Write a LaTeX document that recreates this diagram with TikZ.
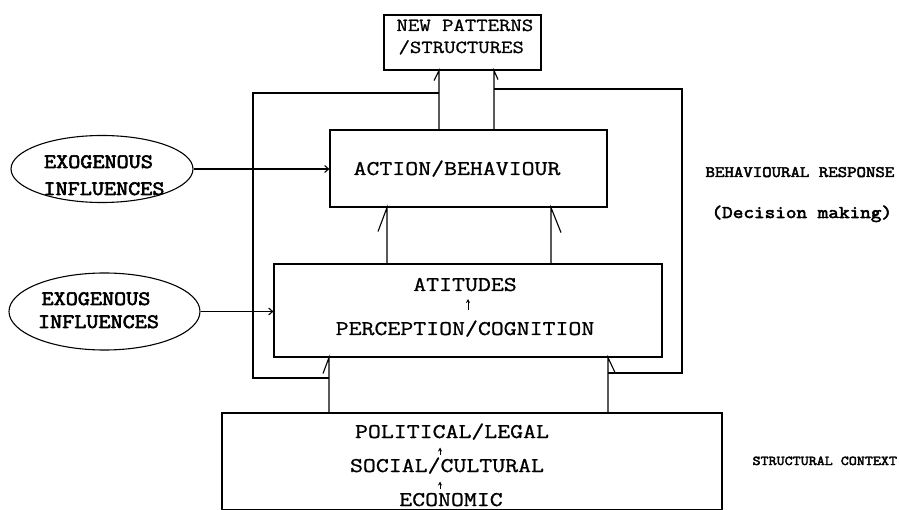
\documentclass[tikz,border=0pt]{standalone}
\usepackage{fontspec}
\newfontfamily\tw[FakeStretch=1.2,FakeBold=1]{Latin Modern Mono}
\newfontfamily\twb[FakeStretch=1.15,FakeBold=3]{Latin Modern Mono}
\usetikzlibrary{arrows.meta,shapes.geometric,calc}
\begin{document}
\begin{tikzpicture}[x=1bp,y=-1bp,line width=1.1bp,
  boxnode/.style={draw,rectangle,inner sep=0pt},
  exo/.style={draw,ellipse,inner sep=0pt},
  bigtxt/.style={inner sep=0pt,anchor=base,font=\tw\fontsize{21}{24}\selectfont},
  nptxt/.style={inner sep=0pt,anchor=base west,font=\tw\fontsize{18.5}{21}\selectfont},
  exotxt/.style={inner sep=0pt,anchor=base,font=\twb\fontsize{20.5}{22}\selectfont},
  sidetxt/.style={inner sep=0pt,anchor=base west},
  inarrow/.style={-{Straight Barb[length=4bp,width=7bp]}},
  tinyarrow/.style={line width=0.9bp,-{Stealth[length=4bp,width=4bp]}}]
\useasboundingbox (0,0) rectangle (899,510);

% boxes
\node[boxnode,minimum width=157bp,minimum height=55bp] (np) at (462.5,42.5) {};
\node[boxnode,minimum width=277bp,minimum height=77bp] (act) at (468.5,168.5) {};
\node[boxnode,minimum width=388bp,minimum height=93bp] (att) at (468,310.5) {};
\node[boxnode,minimum width=500bp,minimum height=97bp] (ctx) at (472,461.5) {};

% ellipses
\node[exo,minimum width=182bp,minimum height=67bp] (e1) at (102,169) {};
\node[exo,minimum width=191bp,minimum height=77bp] (e2) at (104.5,311.5) {};

% texts
\node[nptxt] (np1) at (396,31) {NEW PATTERNS};
\node[nptxt] (np2) at (398,53) {/STRUCTURES};
\node[bigtxt] (acttxt) at (457,175) {ACTION/BEHAVIOUR};
\node[bigtxt] (atit) at (465,291) {ATITUDES};
\node[bigtxt] (perc) at (465,335) {PERCEPTION/COGNITION};
\node[bigtxt] (pol) at (452,438) {POLITICAL/LEGAL};
\node[bigtxt] (soc) at (447,472) {SOCIAL/CULTURAL};
\node[bigtxt] (eco) at (451,506) {ECONOMIC};
\node[exotxt] (e1a) at (98.5,168) {EXOGENOUS};
\node[exotxt] (e1b) at (104,195) {INFLUENCES};
\node[exotxt] (e2a) at (96,305) {EXOGENOUS};
\node[exotxt] (e2b) at (98.5,328) {INFLUENCES};
\node[sidetxt,font=\twb\fontsize{16}{17}\selectfont] (br) at (705,177) {BEHAVIOURAL RESPONSE};
\node[sidetxt,font=\twb\fontsize{18}{19}\selectfont] (dm) at (711,218) {(Decision making)};
\node[sidetxt,font=\twb\fontsize{13.6}{15}\selectfont] (sc) at (752,465) {STRUCTURAL CONTEXT};

% tiny arrows inside boxes
\coordinate (ta1) at (468,310); \coordinate (ta2) at (468,299);
\coordinate (tb1) at (440,455); \coordinate (tb2) at (440,447.5);
\coordinate (tc1) at (440,489); \coordinate (tc2) at (440,481.5);
\draw[tinyarrow] (ta1) -- (ta2);
\draw[tinyarrow] (tb1) -- (tb2);
\draw[tinyarrow] (tc1) -- (tc2);

% x positions of vertical connectors
\coordinate (cL) at (329,0); \coordinate (cR) at (608,0);
\coordinate (aL) at (387,0); \coordinate (aR) at (551,0);
\coordinate (nL) at (439,0); \coordinate (nR) at (494,0);

% vertical connectors with half arrowheads
\draw (ctx.north -| cL) -- (att.south -| cL) -- ++(-6,16);
\draw (ctx.north -| cR) -- (att.south -| cR) -- ++(7,15);
\draw (att.north -| aL) -- (act.south -| aL) -- ++(-9,24);
\draw (att.north -| aR) -- (act.south -| aR) -- ++(10,25);
\draw (act.north -| nL) -- (np.south -| nL) -- ++(-5,10);
\draw (act.north -| nR) -- (np.south -| nR) -- ++(4,9);

% feedback loops
\coordinate (lb) at (253,378); \coordinate (lt) at (253,93);
\coordinate (rb) at (682,373); \coordinate (rt) at (682,89);
\draw (lb -| cL) -- (lb) -- (lt) -- (lt -| nL);
\draw (rb -| cR) -- (rb) -- (rt) -- (rt -| nR);

% exogenous influences
\draw[inarrow] (e1.east) -- (e1.east -| act.west);
\draw[inarrow] (e2.east) -- (e2.east -| att.west);
\end{tikzpicture}
\end{document}
